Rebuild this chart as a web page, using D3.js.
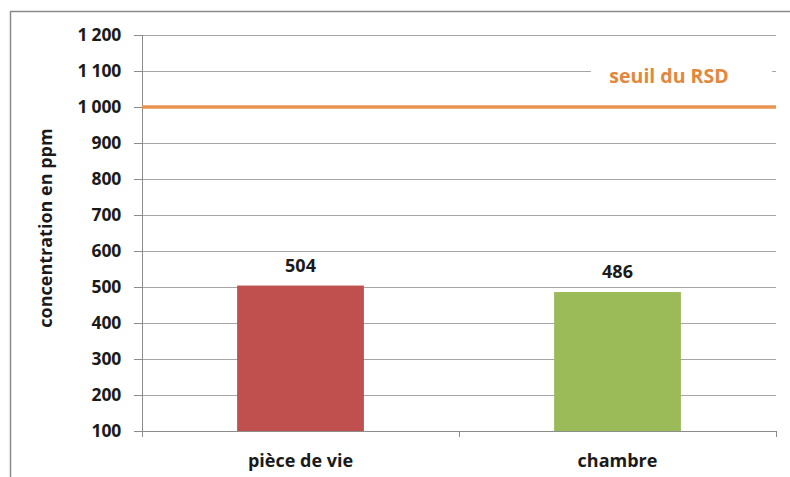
<!DOCTYPE html>
<html>
<head>
<meta charset="utf-8">
<script src="https://cdn.jsdelivr.net/npm/d3@7"></script>
<style>
  html, body { margin: 0; padding: 0; background: #fff; }
  svg { display: block; }
  text { font-family: "Open Sans", "DejaVu Sans", sans-serif; font-weight: bold; }
</style>
</head>
<body>
<svg id="chart" width="790" height="477"></svg>
<script>
const categories = ["pièce de vie", "chambre"];
const values = [504, 486];
const barColors = ["#C0504D", "#9BBB59"];
const yTicks = [100, 200, 300, 400, 500, 600, 700, 800, 900, 1000, 1100, 1200];
const thresholdValue = 1000;
const thresholdLabel = "seuil du RSD";
const yTitle = "concentration en ppm";

const svg = d3.select("#chart");
const W = 790, H = 477;
const margin = { left: 142, right: 14, top: 35, bottom: 46 };
const plotW = W - margin.left - margin.right;
const plotH = H - margin.top - margin.bottom;

// outer frame (top and left edges visible)
svg.append("line").attr("x1", 10.5).attr("x2", W).attr("y1", 11.5).attr("y2", 11.5)
  .attr("stroke", "#8a8a8a").attr("stroke-width", 1.5);
svg.append("line").attr("x1", 10.5).attr("x2", 10.5).attr("y1", 11).attr("y2", H)
  .attr("stroke", "#8a8a8a").attr("stroke-width", 1.5);

const g = svg.append("g").attr("transform", `translate(${margin.left},${margin.top})`);

const y = d3.scaleLinear().domain([100, 1200]).range([plotH, 0]);
const x = d3.scaleBand().domain(categories).range([0, plotW]).padding(0);

const fmt = v => d3.format(",")(v).replace(/,/g, " ");

// gridlines
g.append("g").selectAll("line").data(yTicks.filter(t => t !== 100)).join("line")
  .attr("x1", 0).attr("x2", plotW)
  .attr("y1", d => Math.round(y(d)) + 0.5).attr("y2", d => Math.round(y(d)) + 0.5)
  .attr("stroke", "#a6a6a6").attr("stroke-width", 1);

// y axis
const yAxis = g.append("g")
  .call(d3.axisLeft(y).tickValues(yTicks).tickFormat(fmt).tickSize(8).tickPadding(13));
yAxis.select(".domain").remove();
yAxis.selectAll(".tick line").attr("stroke", "#8c8c8c");
yAxis.selectAll(".tick text").attr("font-size", 17.5).attr("fill", "#1a1a1a")
  .attr("font-family", "Open Sans, sans-serif").attr("font-weight", "bold")
  .attr("letter-spacing", "-0.2");
g.append("line").attr("x1", 0.5).attr("x2", 0.5).attr("y1", 0).attr("y2", plotH + 6)
  .attr("stroke", "#8c8c8c");

// x axis
g.append("line").attr("x1", 0).attr("x2", plotW).attr("y1", plotH + 0.5).attr("y2", plotH + 0.5)
  .attr("stroke", "#8c8c8c");
const catEdges = [0, ...categories.map(c => x(c) + x.bandwidth())];
g.append("g").selectAll("line").data(catEdges).join("line")
  .attr("x1", d => Math.round(d) + 0.5).attr("x2", d => Math.round(d) + 0.5)
  .attr("y1", plotH).attr("y2", plotH + 6).attr("stroke", "#8c8c8c");

// bars
const barW = x.bandwidth() * 0.4;
g.append("g").selectAll("rect").data(values).join("rect")
  .attr("x", (d, i) => x(categories[i]) + (x.bandwidth() - barW) / 2)
  .attr("width", barW)
  .attr("y", d => y(d))
  .attr("height", d => plotH - y(d))
  .attr("fill", (d, i) => barColors[i]);

// value labels
g.append("g").selectAll("text").data(values).join("text")
  .attr("x", (d, i) => x(categories[i]) + x.bandwidth() / 2)
  .attr("y", d => y(d) - 14)
  .attr("text-anchor", "middle").attr("font-size", 18).attr("fill", "#1a1a1a")
  .text(d => d);

// category labels
g.append("g").selectAll("text").data(categories).join("text")
  .attr("x", d => x(d) + x.bandwidth() / 2)
  .attr("y", plotH + 36)
  .attr("text-anchor", "middle").attr("font-size", 18).attr("fill", "#1a1a1a")
  .text(d => d);

// threshold line
g.append("line").attr("x1", 0).attr("x2", plotW)
  .attr("y1", y(thresholdValue)).attr("y2", y(thresholdValue))
  .attr("stroke", "#E8934F").attr("stroke-width", 3.5);

// threshold label with white box
const lblX = 669 - margin.left, lblY = 76 - margin.top;
g.append("rect").attr("x", lblX - 78).attr("y", lblY - 13).attr("width", 181).attr("height", 26)
  .attr("fill", "#fff");
g.append("text").attr("x", lblX).attr("y", lblY + 7)
  .attr("text-anchor", "middle").attr("font-size", 19.5).attr("fill", "#E3873C")
  .text(thresholdLabel);

// y title
svg.append("text")
  .attr("transform", `translate(52,${228}) rotate(-90)`)
  .attr("text-anchor", "middle").attr("font-size", 18).attr("fill", "#1a1a1a")
  .text(yTitle);
</script>
</body>
</html>
